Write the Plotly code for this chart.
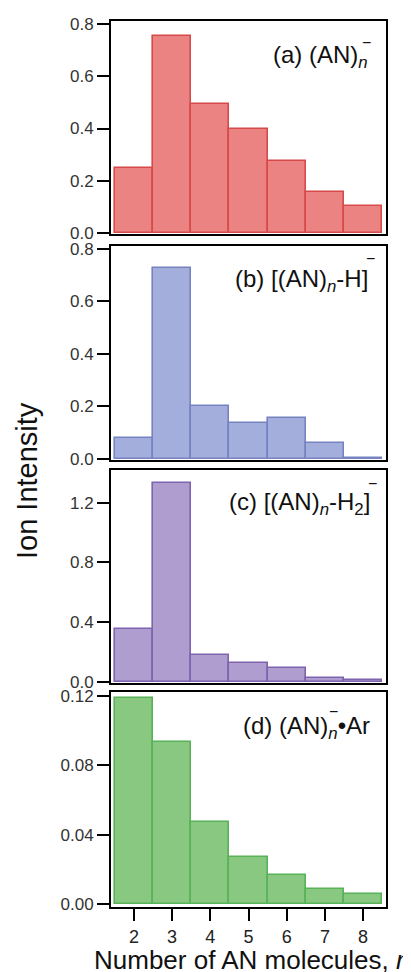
import plotly.graph_objects as go

n_values = [2, 3, 4, 5, 6, 7, 8]
anion_a = [0.249, 0.755, 0.494, 0.400, 0.277, 0.156, 0.105]
dehydro_b = [0.079, 0.727, 0.203, 0.138, 0.157, 0.060, 0.004]
dehydro2_c = [0.352, 1.330, 0.177, 0.128, 0.090, 0.027, 0.010]
argon_d = [0.1187, 0.0933, 0.0475, 0.0273, 0.0167, 0.0087, 0.0060]

y_ticks_a = [0.0, 0.2, 0.4, 0.6, 0.8]
y_ticks_b = [0.0, 0.2, 0.4, 0.6, 0.8]
y_ticks_c = [0.0, 0.4, 0.8, 1.2]
y_ticks_d = [0.00, 0.04, 0.08, 0.12]

W, H = 411, 972
OFF = 8  # page body margin offset
FONT = "Liberation Sans, Arial, sans-serif"


def px(x):
    return (x - OFF) / W


def py(y):
    return 1 - (y - OFF) / H


panels = [
    dict(vals=anion_a, fill="#EB8383", edge="#D84A4A", ticks=y_ticks_a, fmt="%.1f", rng=[-0.004, 0.812], top=21, bot=234),
    dict(vals=dehydro_b, fill="#A4AEDC", edge="#7683C0", ticks=y_ticks_b, fmt="%.1f", rng=[-0.004, 0.811], top=246, bot=460),
    dict(vals=dehydro2_c, fill="#B09DD0", edge="#7E63AE", ticks=y_ticks_c, fmt="%.1f", rng=[-0.009, 1.42], top=470, bot=683),
    dict(vals=argon_d, fill="#88C881", edge="#58B257", ticks=y_ticks_d, fmt="%.2f", rng=[-0.0017, 0.1223], top=692, bot=907),
]

fig = go.Figure()
x_dom = [px(111), px(386)]
for i, p in enumerate(panels, start=1):
    xa = "x" if i == 1 else f"x{i}"
    ya = "y" if i == 1 else f"y{i}"
    fig.add_trace(go.Bar(
        x=n_values, y=p["vals"], width=1.0,
        marker=dict(color=p["fill"], line=dict(color=p["edge"], width=1.6)),
        xaxis=xa, yaxis=ya, showlegend=False, hoverinfo="x+y",
    ))
    last = (i == 4)
    xkey = "xaxis" if i == 1 else f"xaxis{i}"
    ykey = "yaxis" if i == 1 else f"yaxis{i}"
    fig.update_layout(**{
        xkey: dict(
            domain=x_dom, range=[1.4, 8.6], anchor=ya,
            showgrid=False, zeroline=False,
            showline=True, linecolor="black", linewidth=2, mirror=True,
            tickmode="array", tickvals=n_values,
            ticktext=[str(v) for v in n_values] if last else [""] * 7,
            showticklabels=last,
            ticks="outside" if last else "", ticklen=12, tickwidth=2, tickcolor="black",
            tickfont=dict(family=FONT, size=18, color="#222"),
            automargin=False,
        ),
        ykey: dict(
            domain=[py(p["bot"]), py(p["top"])], range=p["rng"], anchor=xa,
            showgrid=False, zeroline=False,
            showline=True, linecolor="black", linewidth=2, mirror=True,
            tickmode="array", tickvals=p["ticks"],
            ticktext=[p["fmt"] % v for v in p["ticks"]],
            ticks="outside", ticklen=12, tickwidth=2, tickcolor="black",
            tickfont=dict(family=FONT, size=17, color="#333"),
            automargin=False,
        ),
    })

ann_font = dict(family=FONT, size=24, color="#111")
labels = [
    ("(a) (AN)<sub><i>n</i></sub>", 370, 56, 366, 42),
    ("(b) [(AN)<sub><i>n</i></sub>-H]", 370, 280, 370, 259),
    ("(c) [(AN)<sub><i>n</i></sub>-H<sub>2</sub>]", 372, 503, 372, 483),
    ("(d) (AN)<sub><i>n</i></sub>•Ar", 372, 727, 333, 711),
]
for txt, xr, yc, mx, my in labels:
    fig.add_annotation(text=txt, x=px(xr), y=py(yc), xref="paper", yref="paper",
                       xanchor="right", yanchor="middle", showarrow=False, font=ann_font)
    fig.add_annotation(text="−", x=px(mx), y=py(my), xref="paper", yref="paper",
                       xanchor="center", yanchor="middle", showarrow=False,
                       font=dict(family=FONT, size=16, color="#111"))

fig.add_annotation(text="Ion Intensity", x=px(27), y=py(481), xref="paper", yref="paper",
                   textangle=-90, xanchor="center", yanchor="middle", showarrow=False,
                   font=dict(family=FONT, size=29, color="#111"))
fig.add_annotation(text="Number of AN molecules, <i>n</i>", x=px(92), y=py(960),
                   xref="paper", yref="paper", xanchor="left", yanchor="middle",
                   showarrow=False, font=dict(family=FONT, size=26, color="#111"))

fig.update_layout(
    width=W, height=H,
    margin=dict(l=0, r=0, t=0, b=0),
    paper_bgcolor="white", plot_bgcolor="white",
    bargap=0,
)
fig.write_html("out.html", config={"displayModeBar": False})
